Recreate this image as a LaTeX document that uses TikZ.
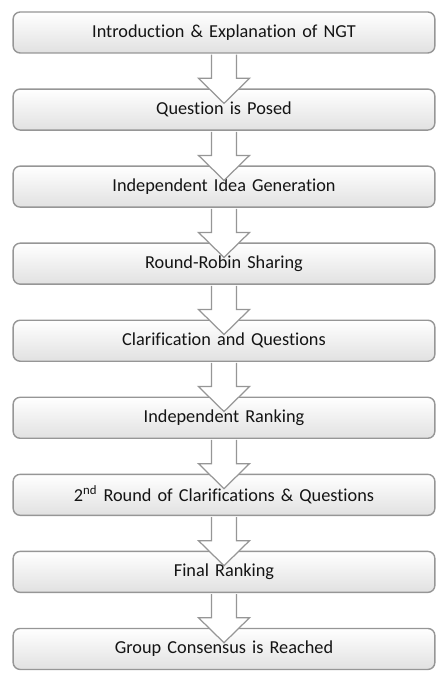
\documentclass[tikz,border=0pt]{standalone}
\usepackage{fontspec}
\setmainfont{Carlito}[Ligatures=NoCommon]
\usetikzlibrary{positioning, calc}
\definecolor{BoxLine}{RGB}{150, 150, 150}
\definecolor{BoxShade}{RGB}{225, 225, 225}
\definecolor{TextDark}{RGB}{20, 20, 20}

\begin{document}
\begin{tikzpicture}[
    node distance=0.693cm,
    stepbox/.style={rectangle, draw=BoxLine, top color=white, bottom color=BoxShade, text width=8.2cm, minimum width=8.4cm, text centered, rounded corners=4pt, minimum height=0.82cm, font=\fontsize{10.4}{12}\selectfont, text=TextDark, line width=0.8pt},
    flowarrow/.style={draw=BoxLine, fill=white, line width=0.7pt, line join=miter}
]
    \useasboundingbox (0,0) rectangle (8.94,-13.54);

    % Nodes placement
    \node (s1) [stepbox] at (4.48,-0.65) {Introduction \& Explanation of NGT};
    \node (s2) [stepbox, below=of s1] {Question is Posed};
    \node (s3) [stepbox, below=of s2] {Independent Idea Generation};
    \node (s4) [stepbox, below=of s3] {Round-Robin Sharing};
    \node (s5) [stepbox, below=of s4] {Clarification and Questions};
    \node (s6) [stepbox, below=of s5] {Independent Ranking};
    \node (s7) [stepbox, below=of s6] {2\textsuperscript{nd} Round of Clarifications \& Questions};
    \node (s8) [stepbox, below=of s7] {Final Ranking};
    \node (s9) [stepbox, below=of s8] {Group Consensus is Reached};

    % Block arrows between steps
    \foreach \a/\b in {s1/s2, s2/s3, s3/s4, s4/s5, s5/s6, s6/s7, s7/s8, s8/s9}
        \draw [flowarrow] ($(\a.south)+(-0.25,-0.02)$) -- ($(\b.north)+(-0.25,0.2)$)
            -- ($(\b.north)+(-0.51,0.2)$) -- ($(\b.north)+(0,-0.3)$)
            -- ($(\b.north)+(0.51,0.2)$) -- ($(\b.north)+(0.25,0.2)$)
            -- ($(\a.south)+(0.25,-0.02)$);

\end{tikzpicture}
\end{document}
